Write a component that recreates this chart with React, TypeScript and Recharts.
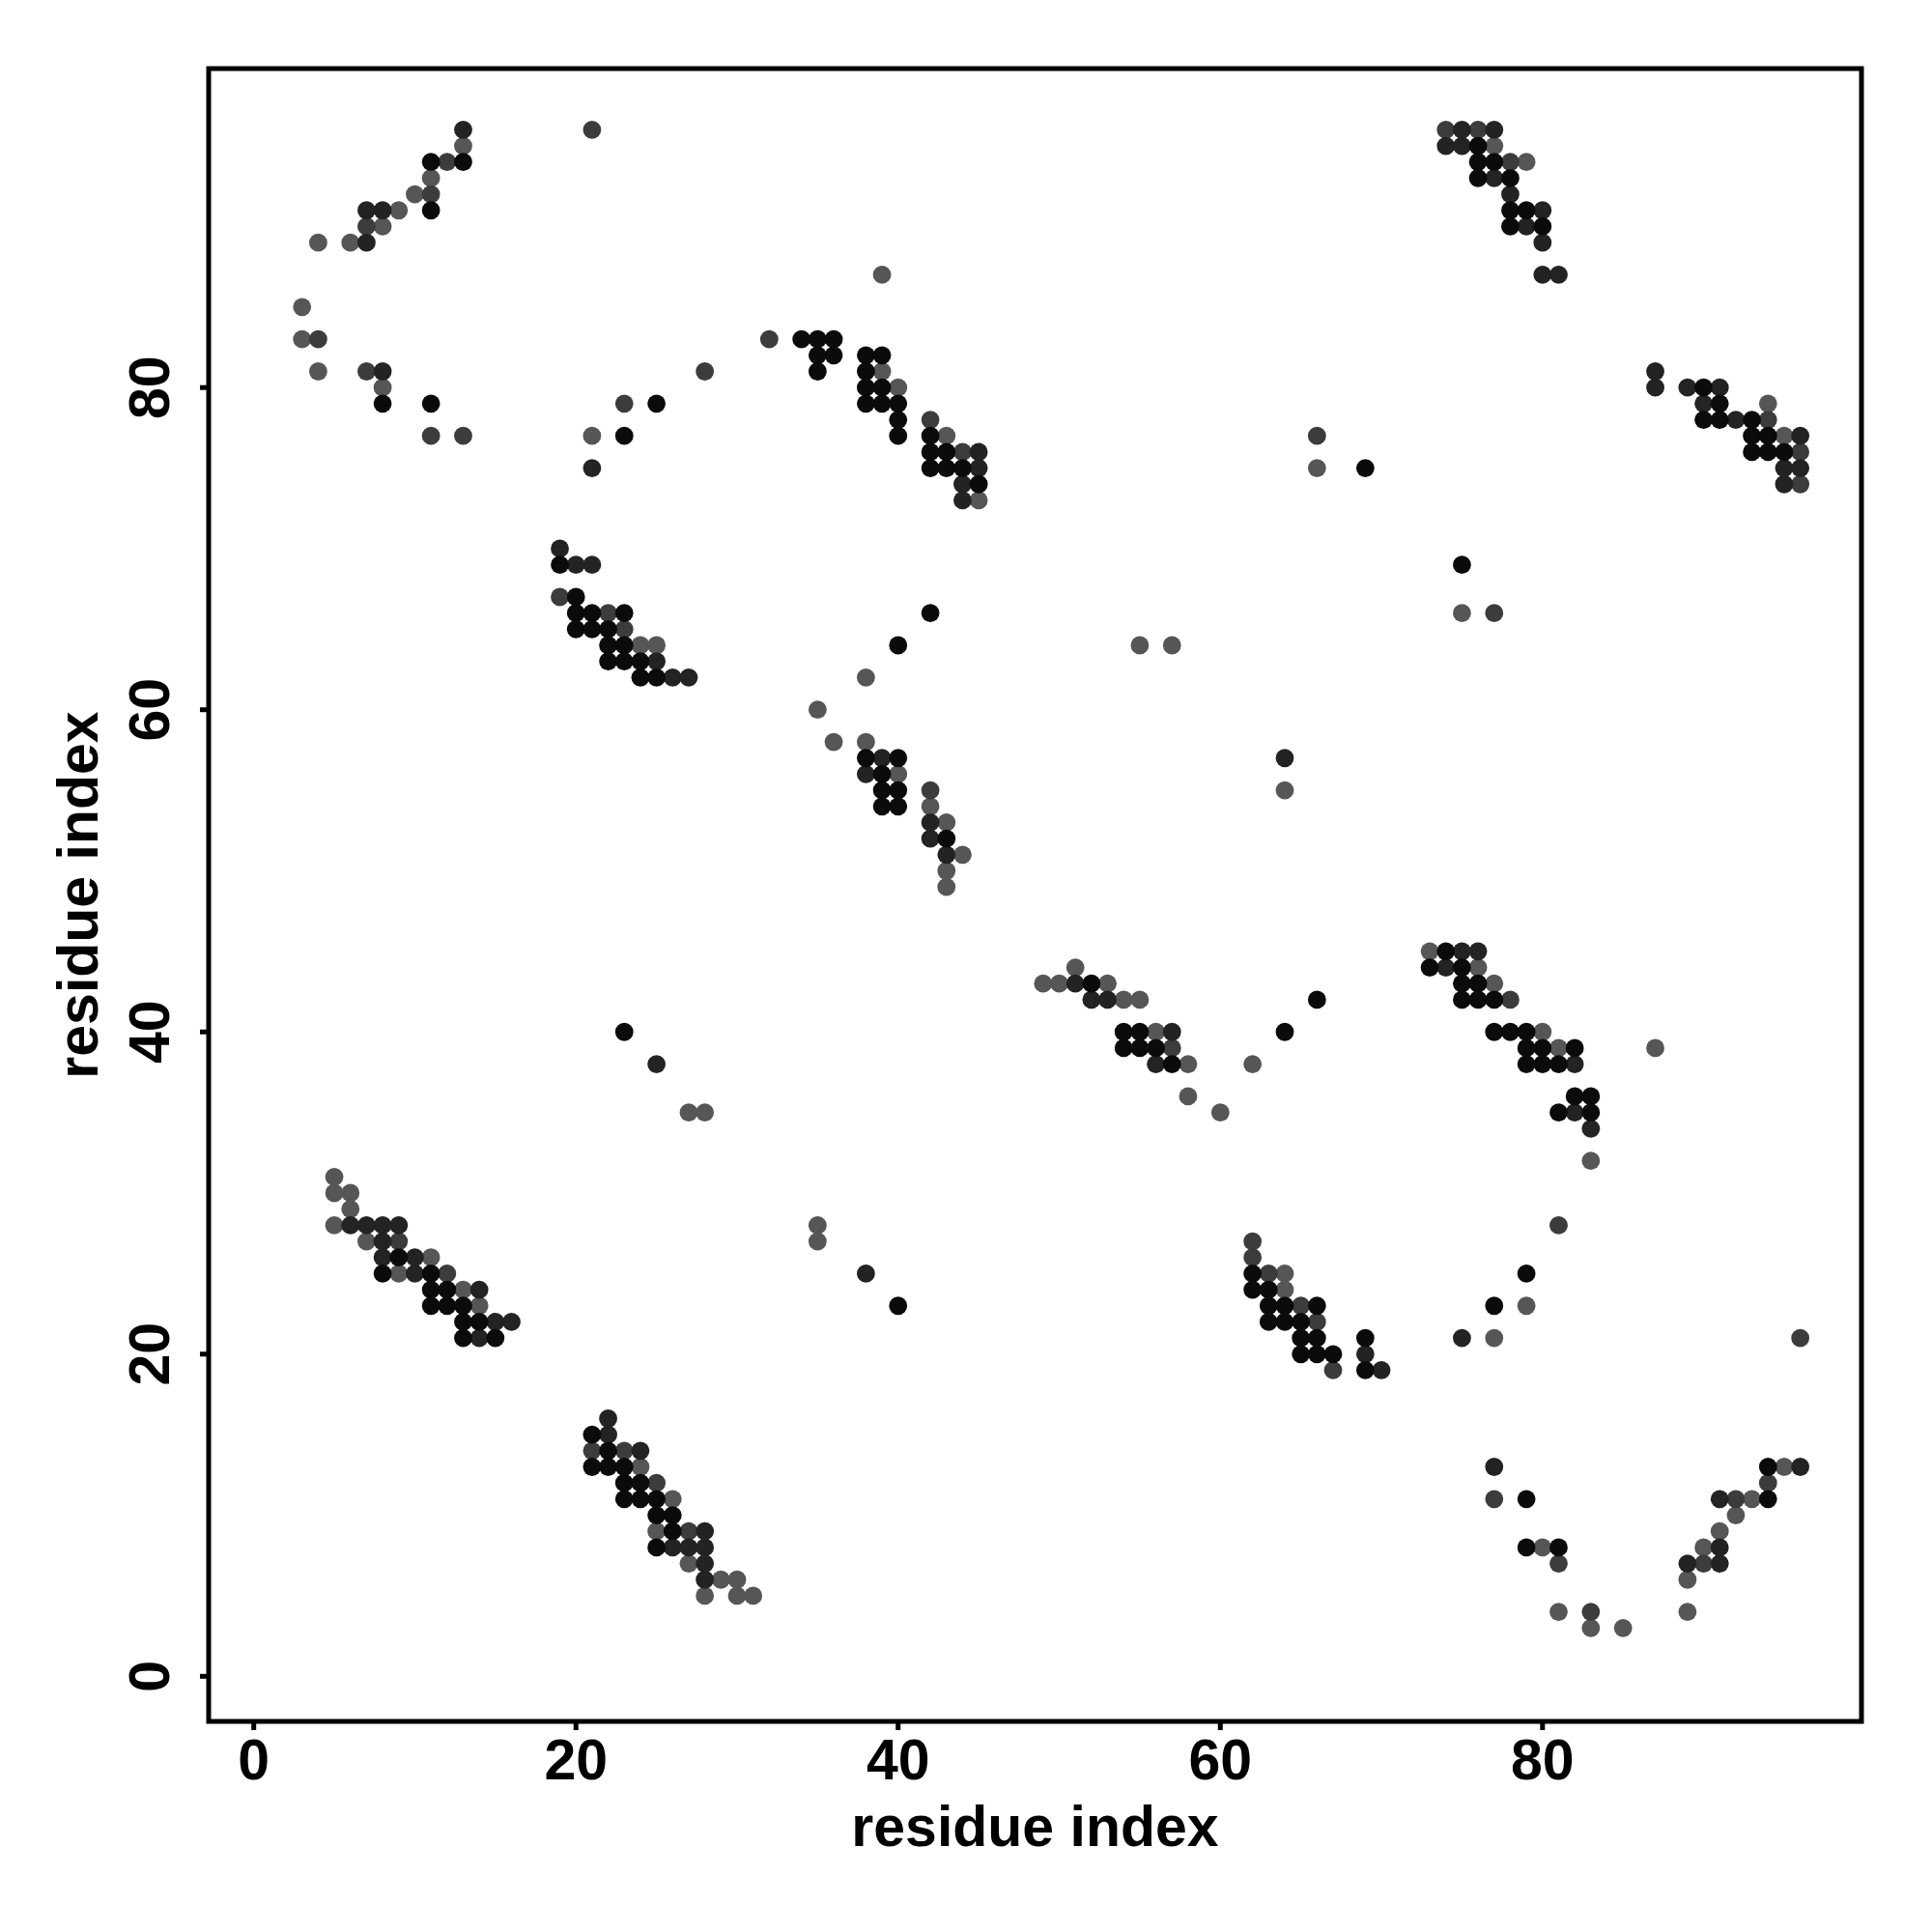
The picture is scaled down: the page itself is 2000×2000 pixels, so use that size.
import React from "react";
import {
  ScatterChart,
  Scatter,
  XAxis,
  YAxis,
  ReferenceArea,
  Label,
} from "recharts";

// contact pairs [i, j], grouped by shade
const blackPts: [number, number][] = [
  [11, 94], [13, 94], [11, 91], [8, 79], [11, 79],
  [34, 83], [35, 83], [36, 83], [35, 82], [36, 82], [35, 81], [38, 82], [39, 82], [38, 81],
  [38, 80], [39, 80], [38, 79], [39, 79], [40, 79], [40, 78], [40, 77], [42, 77], [42, 76],
  [43, 76], [42, 75], [43, 75], [44, 75], [45, 74], [25, 79], [23, 77],
  [76, 95], [76, 94], [77, 94], [76, 93], [78, 93], [78, 91], [79, 91], [78, 90], [80, 90],
  [90, 80], [91, 79], [90, 78], [91, 78], [93, 78], [93, 77], [94, 77], [93, 76], [94, 76], [95, 76],
  [19, 69], [20, 67], [20, 66], [21, 66], [23, 66], [20, 65], [21, 65], [22, 65], [22, 64], [23, 64],
  [22, 63], [23, 63], [24, 63], [24, 62], [25, 62], [42, 66], [40, 64],
  [38, 57], [40, 57], [39, 56], [39, 55], [40, 55], [39, 54], [40, 54], [43, 52],
  [52, 43], [54, 40], [55, 40], [54, 39], [55, 39], [56, 39], [57, 38], [64, 40], [66, 42],
  [74, 45], [73, 44], [75, 44], [75, 43], [76, 43], [75, 42], [76, 42], [77, 42],
  [77, 40], [78, 40], [79, 40], [79, 39], [80, 39], [82, 39], [79, 38], [80, 38], [81, 38],
  [82, 36], [83, 36], [81, 35], [83, 35],
  [9, 26], [8, 25], [11, 25], [11, 24], [12, 24], [11, 23], [12, 23], [13, 23], [13, 22], [14, 22],
  [13, 21], [15, 21],
  [21, 15], [22, 14], [21, 13], [22, 13], [23, 13], [23, 12], [24, 12], [23, 11], [24, 11], [25, 11],
  [25, 10], [26, 10], [26, 9], [25, 8],
  [62, 25], [62, 24], [63, 24], [63, 23], [64, 23], [66, 23], [63, 22], [64, 22], [65, 22],
  [65, 21], [66, 21], [65, 20], [66, 20], [67, 20], [69, 21], [69, 19],
  [79, 11], [79, 8], [81, 8], [94, 11], [94, 13],
  [23, 40], [40, 23], [69, 75], [75, 69], [79, 25], [77, 23],
];

const darkPts: [number, number][] = [
  [13, 96], [7, 91], [8, 91], [7, 89], [8, 81],
  [45, 76], [45, 75], [44, 74], [44, 73], [21, 75],
  [75, 96], [77, 96], [74, 95], [75, 95], [77, 93], [78, 92], [80, 91], [79, 90], [80, 89],
  [80, 87], [81, 87], [87, 81], [87, 80], [89, 80], [91, 80], [90, 79], [92, 78], [96, 77],
  [95, 75], [96, 75], [95, 74],
  [19, 70], [20, 69], [21, 69], [25, 63], [26, 62], [27, 62],
  [39, 57], [38, 56], [42, 53], [42, 52], [43, 51],
  [51, 43], [52, 42], [53, 42], [57, 40], [56, 38],
  [75, 45], [76, 45], [74, 44], [82, 38], [82, 35], [83, 34],
  [6, 28], [7, 28], [8, 28], [9, 28], [8, 27], [8, 26], [10, 26], [10, 25], [14, 24],
  [15, 22], [16, 22], [14, 21],
  [22, 16], [22, 15], [24, 14], [28, 9], [26, 8], [27, 8], [28, 8], [28, 7], [28, 6],
  [69, 20], [70, 19],
  [75, 21], [77, 13], [89, 7], [91, 7], [91, 8], [91, 11], [96, 13],
  [25, 38], [38, 25], [64, 57],
];

const midPts: [number, number][] = [
  [12, 94], [11, 92], [7, 90], [4, 83], [7, 81], [11, 77], [13, 77],
  [21, 96], [32, 83], [42, 78], [44, 76], [23, 79], [28, 81],
  [74, 96], [76, 96], [78, 94], [94, 78], [96, 76], [96, 74],
  [19, 67], [22, 66], [23, 65], [42, 55],
  [57, 39], [78, 42], [9, 27], [12, 25], [21, 14], [23, 14], [25, 12], [27, 9],
  [62, 27], [62, 26], [63, 25], [65, 23], [66, 22], [67, 19],
  [96, 21], [77, 11], [81, 7], [83, 4], [90, 7], [92, 11], [94, 12],
  [66, 77], [77, 66], [81, 28],
];

const grayPts: [number, number][] = [
  [13, 95], [11, 93], [10, 92], [9, 91], [8, 90], [4, 89], [6, 89], [3, 85], [3, 83], [4, 81], [8, 80],
  [39, 87], [39, 81], [40, 80], [43, 77], [45, 73], [21, 77],
  [77, 95], [79, 94], [94, 79], [95, 77],
  [24, 64], [25, 64], [38, 62], [35, 60], [36, 58], [38, 58], [40, 56], [42, 54], [43, 53],
  [44, 51], [43, 50], [43, 49],
  [51, 44], [49, 43], [50, 43], [53, 43], [54, 42], [55, 42], [56, 40], [58, 38], [58, 36],
  [60, 35], [62, 38],
  [73, 45], [76, 44], [77, 43], [80, 40], [81, 39], [83, 32], [87, 39],
  [5, 31], [5, 30], [6, 30], [6, 29], [5, 28], [7, 27], [11, 26], [9, 25], [13, 24], [14, 23],
  [24, 13], [26, 11], [25, 9], [27, 7], [29, 6], [30, 6], [28, 5], [30, 5], [31, 5],
  [64, 25], [64, 24],
  [77, 21], [80, 8], [81, 4], [83, 3], [85, 3], [89, 6], [89, 4], [90, 8], [91, 9], [92, 10],
  [93, 11], [95, 13],
  [27, 35], [28, 35], [35, 28], [35, 27], [64, 55], [55, 64], [57, 64], [66, 75], [75, 66], [79, 23],
];

const ticks = [0, 20, 40, 60, 80];
const axisTitle = "residue index";

const FONT = "'Liberation Sans', Arial, Helvetica, sans-serif";
const DOMAIN: [number, number] = [-2.8, 99.8];

const toRows = (pts: [number, number][]) => pts.map(([x, y]) => ({ x, y }));

const dot = (fill: string) => (props: any) => (
  <circle cx={props.cx} cy={props.cy} r={9.4} fill={fill} />
);

const XTick = (props: any) => (
  <text
    x={props.x}
    y={props.y}
    dy="0.71em"
    textAnchor="middle"
    fontSize={59}
    fontWeight="bold"
    fontFamily={FONT}
    fill="#000"
  >
    {props.payload.value}
  </text>
);

const YTick = (props: any) => (
  <text
    x={props.x}
    y={props.y}
    transform={`rotate(-90, ${props.x}, ${props.y})`}
    textAnchor="middle"
    fontSize={59}
    fontWeight="bold"
    fontFamily={FONT}
    fill="#000"
  >
    {props.payload.value}
  </text>
);

const XTitle = (props: any) => {
  const vb = props.viewBox || { x: 216, y: 1782, width: 1711, height: 218 };
  return (
    <text
      x={vb.x + vb.width / 2}
      y={vb.y + 129}
      textAnchor="middle"
      fontSize={59}
      fontWeight="bold"
      fontFamily={FONT}
      fill="#000"
    >
      {axisTitle}
    </text>
  );
};

const YTitle = (props: any) => {
  const vb = props.viewBox || { x: 0, y: 71, width: 216, height: 1711 };
  const cx = vb.x + 101;
  const cy = vb.y + vb.height / 2;
  return (
    <text
      x={cx}
      y={cy}
      transform={`rotate(-90, ${cx}, ${cy})`}
      textAnchor="middle"
      fontSize={59}
      fontWeight="bold"
      fontFamily={FONT}
      fill="#000"
    >
      {axisTitle}
    </text>
  );
};

export default function App() {
  return (
    <div
      style={{
        position: "absolute",
        left: 0,
        top: 0,
        width: 2000,
        height: 2000,
        background: "#fff",
      }}
    >
      <ScatterChart
        width={2000}
        height={2000}
        margin={{ top: 71, right: 73, bottom: 0, left: 0 }}
      >
        <XAxis
          type="number"
          dataKey="x"
          domain={DOMAIN}
          ticks={ticks}
          interval={0}
          allowDataOverflow
          height={218}
          axisLine={false}
          tickLine={{ stroke: "#000", strokeWidth: 5 }}
          tickSize={9}
          tickMargin={9}
          tick={<XTick />}
        >
          <Label content={XTitle} />
        </XAxis>
        <YAxis
          type="number"
          dataKey="y"
          domain={DOMAIN}
          ticks={ticks}
          interval={0}
          allowDataOverflow
          width={216}
          axisLine={false}
          tickLine={{ stroke: "#000", strokeWidth: 5 }}
          tickSize={9}
          tickMargin={32}
          tick={<YTick />}
        >
          <Label content={YTitle} />
        </YAxis>
        <Scatter data={toRows(grayPts)} shape={dot("#565656")} isAnimationActive={false} />
        <Scatter data={toRows(midPts)} shape={dot("#3c3c3c")} isAnimationActive={false} />
        <Scatter data={toRows(darkPts)} shape={dot("#232323")} isAnimationActive={false} />
        <Scatter data={toRows(blackPts)} shape={dot("#0b0b0b")} isAnimationActive={false} />
        <ReferenceArea
          x1={DOMAIN[0]}
          x2={DOMAIN[1]}
          y1={DOMAIN[0]}
          y2={DOMAIN[1]}
          fill="none"
          stroke="#000"
          strokeWidth={5}
          ifOverflow="visible"
        />
      </ScatterChart>
    </div>
  );
}
